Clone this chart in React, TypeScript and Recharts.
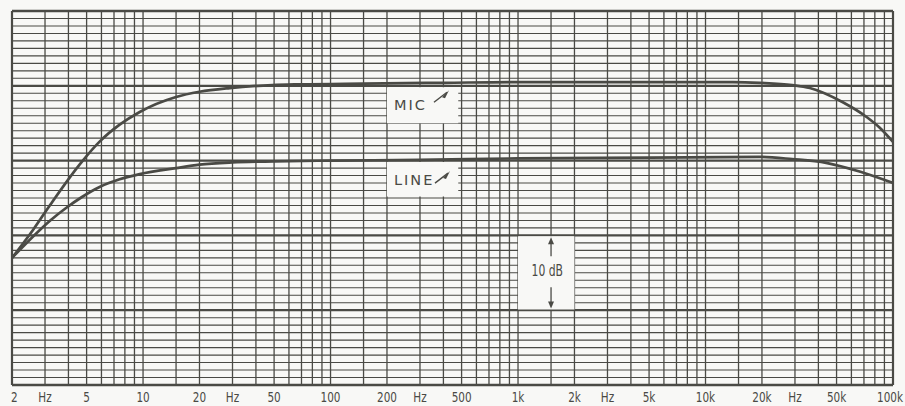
import React from 'react';
import { LineChart, Line, XAxis, YAxis, ReferenceLine, ReferenceArea } from 'recharts';

// frequency response, log x axis 2 Hz .. 100 kHz, 50 dB span
const micFreq = [2, 2.6, 3.2, 4.7, 5.9, 7.5, 9.6, 15, 20, 29, 49, 69, 150, 400, 1000, 5000, 14000, 19500, 29000, 36000, 54000, 72600, 85000, 100000];
const micDb = [17, 20.8, 24.1, 29.8, 32.6, 34.8, 36.5, 38.5, 39.2, 39.7, 40.1, 40.2, 40.3, 40.4, 40.5, 40.5, 40.5, 40.4, 40.1, 39.7, 37.8, 35.8, 34.4, 32.5];

const lineFreq = [2, 2.7, 3.2, 3.9, 4.7, 5.9, 7.5, 9.6, 15, 20, 30, 50, 100, 300, 1000, 5000, 19500, 29000, 44000, 67000, 100000];
const lineDb = [17, 20.3, 22.0, 23.7, 25.1, 26.5, 27.5, 28.2, 29.0, 29.45, 29.75, 29.9, 30.0, 30.1, 30.3, 30.4, 30.5, 30.2, 29.7, 28.5, 27.0];

const tickValues = [2, 3, 5, 10, 20, 30, 50, 100, 200, 300, 500, 1000, 2000, 3000, 5000, 10000, 20000, 30000, 50000, 100000];
const tickLabels = ['2', 'Hz', '5', '10', '20', 'Hz', '50', '100', '200', 'Hz', '500', '1k', '2k', 'Hz', '5k', '10k', '20k', 'Hz', '50k', '100k'];

// log paper: lines at these mantissas in every decade
const gridMantissas = [1, 1.5, 2, 3, 4, 5, 6, 7, 8, 9];
const gridDecades = [1, 10, 100, 1000, 10000];
const dbLevels = Array.from({ length: 51 }, (_, i) => i);

const INK = '#4a4a45';
const PAPER = '#f8f8f6';
const NARROW = "'DejaVu Sans Condensed', 'DejaVu Sans', sans-serif";

const gridFreqs = [2]
  .concat(...gridDecades.map((d) => gridMantissas.map((m) => m * d)))
  .filter((f, i, a) => f >= 2 && f <= 100000 && a.indexOf(f) === i)
  .concat([100000]);

const micData = micFreq.map((f, i) => ({ f, db: micDb[i] }));
const lineData = lineFreq.map((f, i) => ({ f, db: lineDb[i] }));

// squeezed text, the paper uses a tall narrow face
const Narrow = ({ x, y, anchor, size, children }: any) => (
  <text
    transform={`translate(${x},${y}) scale(0.8,1)`}
    textAnchor={anchor}
    fontFamily={NARROW}
    fontSize={size}
    fill={INK}
  >
    {children}
  </text>
);

const FreqTick = (props: any) => {
  const { x, y, payload } = props;
  const i = tickValues.indexOf(payload.value);
  const label = tickLabels[i] ?? '';
  let anchor = 'middle';
  let dx = 0;
  if (payload.value === 2) { anchor = 'start'; dx = -1; }
  if (payload.value === 100000) { anchor = 'end'; dx = 10; }
  return (
    <Narrow x={x + dx} y={y + 17} anchor={anchor} size={14.5}>
      {label}
    </Narrow>
  );
};

const Pin = ({ x, y }: { x: number; y: number }) => (
  <g>
    <line x1={x} y1={y} x2={x + 13} y2={y - 10} stroke={INK} strokeWidth={1.4} />
    <polygon points={`${x + 15},${y - 12} ${x + 8},${y - 5} ${x + 11},${y - 4}`} fill={INK} />
  </g>
);

const BoxLabel = (text: string) => (props: any) => {
  const { x, y } = props.viewBox;
  return (
    <g>
      <text x={x + 7} y={y + 23} fontFamily="'DejaVu Sans', sans-serif" fontSize={14.5} letterSpacing={2} fill={INK}>
        {text}
      </text>
      <Pin x={x + (text === 'MIC' ? 47 : 48)} y={y + (text === 'MIC' ? 15 : 21)} />
    </g>
  );
};

const TenDbLabel = (props: any) => {
  const { x, y, width, height } = props.viewBox;
  const ax = x + width * 0.585;
  return (
    <g>
      <line x1={ax} y1={y + 20} x2={ax} y2={y + 4} stroke={INK} strokeWidth={1.3} />
      <polygon points={`${ax},${y + 1} ${ax - 3},${y + 8} ${ax + 3},${y + 8}`} fill={INK} />
      <Narrow x={x + width / 2 + 1} y={y + 40} anchor="middle" size={15}>
        10 dB
      </Narrow>
      <line x1={ax} y1={y + 51} x2={ax} y2={y + height - 4} stroke={INK} strokeWidth={1.3} />
      <polygon points={`${ax},${y + height - 1} ${ax - 3},${y + height - 8} ${ax + 3},${y + height - 8}`} fill={INK} />
    </g>
  );
};

export default function App() {
  return (
    <div style={{ position: 'absolute', left: 0, top: 0, width: 905, height: 406, background: PAPER }}>
      <LineChart width={905} height={406} margin={{ top: 11, right: 12, bottom: 0, left: 12 }}>
        <XAxis
          dataKey="f"
          type="number"
          scale="log"
          domain={[2, 100000]}
          ticks={tickValues}
          interval={0}
          allowDataOverflow
          axisLine={false}
          tickLine={false}
          tickSize={0}
          tickMargin={0}
          height={21}
          tick={FreqTick}
        />
        <YAxis type="number" domain={[0, 50]} hide allowDataOverflow />

        {/* paper grid */}
        {gridFreqs.map((f) => (
          <ReferenceLine
            key={'v' + f}
            x={f}
            stroke={INK}
            strokeWidth={f === 2 || f === 100000 ? 2.2 : 1.3}
            zIndex={-100}
          />
        ))}
        {dbLevels.map((d) => (
          <ReferenceLine
            key={'h' + d}
            y={d}
            stroke={INK}
            strokeWidth={d % 10 === 0 ? 2.3 : 1.1}
            zIndex={-100}
          />
        ))}

        {/* label boxes */}
        <ReferenceArea x1={200} x2={480} y1={35} y2={39.8} fill={PAPER} fillOpacity={1} stroke="none" zIndex={300} label={BoxLabel('MIC')} />
        <ReferenceArea x1={200} x2={480} y1={25.2} y2={29.8} fill={PAPER} fillOpacity={1} stroke="none" zIndex={300} label={BoxLabel('LINE')} />
        <ReferenceArea x1={1000} x2={2000} y1={10.1} y2={19.9} fill={PAPER} fillOpacity={1} stroke="none" zIndex={300} label={TenDbLabel} />

        <Line data={micData} dataKey="db" type="monotone" stroke={INK} strokeWidth={2.7} dot={false} isAnimationActive={false} />
        <Line data={lineData} dataKey="db" type="monotone" stroke={INK} strokeWidth={2.7} dot={false} isAnimationActive={false} />
      </LineChart>
    </div>
  );
}
